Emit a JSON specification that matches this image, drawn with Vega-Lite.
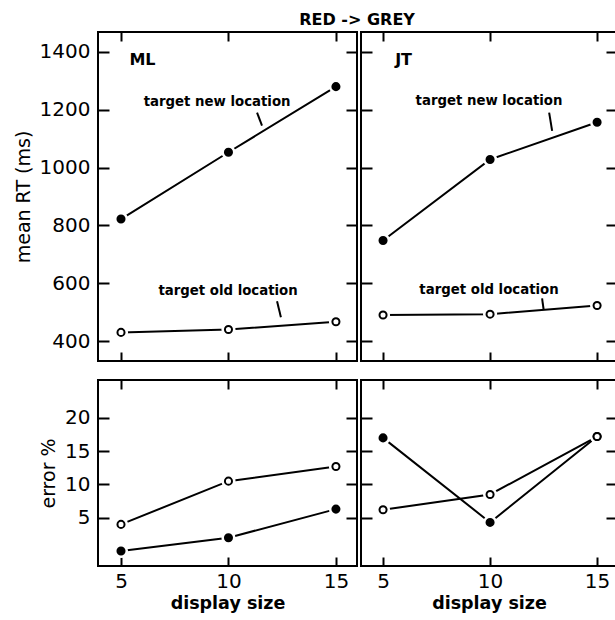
{
  "$schema": "https://vega.github.io/schema/vega-lite/v6.json",
  "padding": {"left": 13, "top": 12, "right": 0, "bottom": 0},
  "title": {"text": "RED -> GREY", "fontSize": 16, "fontWeight": "bold", "font": "DejaVu Sans", "anchor": "middle", "dx": 41, "offset": 2, "color": "black"},
  "datasets": {
    "pts": [
      {"subj": "ML", "m": "rt", "s": "new", "size": 5, "v": 822},
      {"subj": "ML", "m": "rt", "s": "new", "size": 10, "v": 1053},
      {"subj": "ML", "m": "rt", "s": "new", "size": 15, "v": 1280},
      {"subj": "ML", "m": "rt", "s": "old", "size": 5, "v": 430},
      {"subj": "ML", "m": "rt", "s": "old", "size": 10, "v": 440},
      {"subj": "ML", "m": "rt", "s": "old", "size": 15, "v": 467},
      {"subj": "JT", "m": "rt", "s": "new", "size": 5, "v": 748},
      {"subj": "JT", "m": "rt", "s": "new", "size": 10, "v": 1028},
      {"subj": "JT", "m": "rt", "s": "new", "size": 15, "v": 1157},
      {"subj": "JT", "m": "rt", "s": "old", "size": 5, "v": 490},
      {"subj": "JT", "m": "rt", "s": "old", "size": 10, "v": 493},
      {"subj": "JT", "m": "rt", "s": "old", "size": 15, "v": 523},
      {"subj": "ML", "m": "err", "s": "new", "size": 5, "v": 0},
      {"subj": "ML", "m": "err", "s": "new", "size": 10, "v": 2.0},
      {"subj": "ML", "m": "err", "s": "new", "size": 15, "v": 6.3},
      {"subj": "ML", "m": "err", "s": "old", "size": 5, "v": 4.0},
      {"subj": "ML", "m": "err", "s": "old", "size": 10, "v": 10.5},
      {"subj": "ML", "m": "err", "s": "old", "size": 15, "v": 12.7},
      {"subj": "JT", "m": "err", "s": "new", "size": 5, "v": 17.0},
      {"subj": "JT", "m": "err", "s": "new", "size": 10, "v": 4.3},
      {"subj": "JT", "m": "err", "s": "new", "size": 15, "v": 17.2},
      {"subj": "JT", "m": "err", "s": "old", "size": 5, "v": 6.2},
      {"subj": "JT", "m": "err", "s": "old", "size": 10, "v": 8.5},
      {"subj": "JT", "m": "err", "s": "old", "size": 15, "v": 17.2}
    ],
    "labels": [
      {"subj": "ML", "t": "ML", "x": 6.0, "y": 1372, "big": 1},
      {"subj": "ML", "t": "target new location", "x": 9.47, "y": 1228, "big": 0},
      {"subj": "ML", "t": "target old location", "x": 9.98, "y": 572, "big": 0},
      {"subj": "JT", "t": "JT", "x": 5.96, "y": 1372, "big": 1},
      {"subj": "JT", "t": "target new location", "x": 9.95, "y": 1231, "big": 0},
      {"subj": "JT", "t": "target old location", "x": 9.95, "y": 576, "big": 0}
    ],
    "leaders": [
      {"subj": "ML", "x": 11.33, "y": 1190, "x2": 11.56, "y2": 1145},
      {"subj": "ML", "x": 12.26, "y": 538, "x2": 12.44, "y2": 482},
      {"subj": "JT", "x": 12.76, "y": 1190, "x2": 12.9, "y2": 1127},
      {"subj": "JT", "x": 12.43, "y": 548, "x2": 12.5, "y2": 510}
    ]
  },
  "config": {
    "view": {"stroke": "black", "strokeWidth": 2},
    "axis": {"domain": false, "grid": false, "tickColor": "black", "tickWidth": 2, "labelColor": "black", "titleColor": "black", "labelFont": "DejaVu Sans", "titleFont": "DejaVu Sans", "format": "d"}
  },
  "columns": 2,
  "spacing": {"row": 15, "column": 0},
  "concat": [
    {
      "width": 259, "height": 329,
      "layer": [
        {"data": {"name": "pts"}, "transform": [{"filter": "datum.subj=='ML' && datum.m=='rt'"}],
         "mark": {"type": "line", "color": "black", "strokeWidth": 2},
         "encoding": {
           "x": {"field": "size", "type": "quantitative", "scale": {"domain": [3.93, 15.98], "nice": false, "zero": false},
                 "axis": {"orient": "bottom", "values": [5, 10, 15], "labels": false, "tickSize": -9, "title": null}},
           "y": {"field": "v", "type": "quantitative", "scale": {"domain": [331, 1469], "nice": false, "zero": false},
                 "axis": {"orient": "left", "values": [400, 600, 800, 1000, 1200, 1400], "format": "d", "tickSize": -11, "labelPadding": 19, "labelFontSize": 20, "title": "mean RT (ms)", "titleFontSize": 19, "titleFontWeight": "normal", "titlePadding": 6}},
           "detail": {"field": "s"}}},
        {"data": {"name": "pts"}, "transform": [{"filter": "datum.subj=='ML' && datum.m=='rt'"}],
         "mark": {"type": "circle", "color": "white", "size": 200, "opacity": 1},
         "encoding": {
           "x": {"field": "size", "type": "quantitative", "scale": {"domain": [3.93, 15.98], "nice": false, "zero": false},
                 "axis": {"orient": "top", "values": [5, 10, 15], "labels": false, "tickSize": -9, "title": null}},
           "y": {"field": "v", "type": "quantitative", "scale": {"domain": [331, 1469], "nice": false, "zero": false},
                 "axis": {"orient": "right", "values": [400, 600, 800, 1000, 1200, 1400], "labels": false, "tickSize": -11, "title": null}}}},
        {"data": {"name": "pts"}, "transform": [{"filter": "datum.subj=='ML' && datum.m=='rt'"}],
         "mark": {"type": "point", "shape": "circle", "stroke": "black", "strokeWidth": 2, "size": 50, "opacity": 1},
         "encoding": {
           "x": {"field": "size", "type": "quantitative", "scale": {"domain": [3.93, 15.98], "nice": false, "zero": false}, "axis": null},
           "y": {"field": "v", "type": "quantitative", "scale": {"domain": [331, 1469], "nice": false, "zero": false}, "axis": null},
           "fill": {"field": "s", "type": "nominal", "scale": {"domain": ["new", "old"], "range": ["black", "white"]}, "legend": null}}},
        {"data": {"name": "labels"}, "transform": [{"filter": "datum.subj=='ML'"}],
         "mark": {"type": "text", "font": "DejaVu Sans", "fontWeight": "bold", "color": "black", "align": "center", "baseline": "middle"},
         "encoding": {
           "x": {"field": "x", "type": "quantitative", "scale": {"domain": [3.93, 15.98], "nice": false, "zero": false}, "axis": null},
           "y": {"field": "y", "type": "quantitative", "scale": {"domain": [331, 1469], "nice": false, "zero": false}, "axis": null},
           "text": {"field": "t"},
           "size": {"field": "big", "type": "nominal", "scale": {"domain": [0, 1], "range": [13.3, 16]}, "legend": null}}},
        {"data": {"name": "leaders"}, "transform": [{"filter": "datum.subj=='ML'"}],
         "mark": {"type": "rule", "color": "black", "strokeWidth": 2},
         "encoding": {
           "x": {"field": "x", "type": "quantitative", "scale": {"domain": [3.93, 15.98], "nice": false, "zero": false}, "axis": null},
           "y": {"field": "y", "type": "quantitative", "scale": {"domain": [331, 1469], "nice": false, "zero": false}, "axis": null},
           "x2": {"field": "x2"}, "y2": {"field": "y2"}}}
      ],
      "resolve": {"axis": {"x": "independent", "y": "independent"}}
    },
    {
      "width": 256, "height": 329,
      "layer": [
        {"data": {"name": "pts"}, "transform": [{"filter": "datum.subj=='JT' && datum.m=='rt'"}],
         "mark": {"type": "line", "color": "black", "strokeWidth": 2},
         "encoding": {
           "x": {"field": "size", "type": "quantitative", "scale": {"domain": [3.97, 15.93], "nice": false, "zero": false},
                 "axis": {"orient": "bottom", "values": [5, 10, 15], "labels": false, "tickSize": -9, "title": null}},
           "y": {"field": "v", "type": "quantitative", "scale": {"domain": [331, 1469], "nice": false, "zero": false},
                 "axis": {"orient": "left", "values": [400, 600, 800, 1000, 1200, 1400], "labels": false, "tickSize": -11, "title": null}},
           "detail": {"field": "s"}}},
        {"data": {"name": "pts"}, "transform": [{"filter": "datum.subj=='JT' && datum.m=='rt'"}],
         "mark": {"type": "circle", "color": "white", "size": 200, "opacity": 1},
         "encoding": {
           "x": {"field": "size", "type": "quantitative", "scale": {"domain": [3.97, 15.93], "nice": false, "zero": false},
                 "axis": {"orient": "top", "values": [5, 10, 15], "labels": false, "tickSize": -9, "title": null}},
           "y": {"field": "v", "type": "quantitative", "scale": {"domain": [331, 1469], "nice": false, "zero": false},
                 "axis": {"orient": "right", "values": [400, 600, 800, 1000, 1200, 1400], "labels": false, "tickSize": -11, "title": null}}}},
        {"data": {"name": "pts"}, "transform": [{"filter": "datum.subj=='JT' && datum.m=='rt'"}],
         "mark": {"type": "point", "shape": "circle", "stroke": "black", "strokeWidth": 2, "size": 50, "opacity": 1},
         "encoding": {
           "x": {"field": "size", "type": "quantitative", "scale": {"domain": [3.97, 15.93], "nice": false, "zero": false}, "axis": null},
           "y": {"field": "v", "type": "quantitative", "scale": {"domain": [331, 1469], "nice": false, "zero": false}, "axis": null},
           "fill": {"field": "s", "type": "nominal", "scale": {"domain": ["new", "old"], "range": ["black", "white"]}, "legend": null}}},
        {"data": {"name": "labels"}, "transform": [{"filter": "datum.subj=='JT'"}],
         "mark": {"type": "text", "font": "DejaVu Sans", "fontWeight": "bold", "color": "black", "align": "center", "baseline": "middle"},
         "encoding": {
           "x": {"field": "x", "type": "quantitative", "scale": {"domain": [3.97, 15.93], "nice": false, "zero": false}, "axis": null},
           "y": {"field": "y", "type": "quantitative", "scale": {"domain": [331, 1469], "nice": false, "zero": false}, "axis": null},
           "text": {"field": "t"},
           "size": {"field": "big", "type": "nominal", "scale": {"domain": [0, 1], "range": [13.3, 16]}, "legend": null}}},
        {"data": {"name": "leaders"}, "transform": [{"filter": "datum.subj=='JT'"}],
         "mark": {"type": "rule", "color": "black", "strokeWidth": 2},
         "encoding": {
           "x": {"field": "x", "type": "quantitative", "scale": {"domain": [3.97, 15.93], "nice": false, "zero": false}, "axis": null},
           "y": {"field": "y", "type": "quantitative", "scale": {"domain": [331, 1469], "nice": false, "zero": false}, "axis": null},
           "x2": {"field": "x2"}, "y2": {"field": "y2"}}}
      ],
      "resolve": {"axis": {"x": "independent", "y": "independent"}}
    },
    {
      "width": 259, "height": 186,
      "layer": [
        {"data": {"name": "pts"}, "transform": [{"filter": "datum.subj=='ML' && datum.m=='err'"}],
         "mark": {"type": "line", "color": "black", "strokeWidth": 2},
         "encoding": {
           "x": {"field": "size", "type": "quantitative", "scale": {"domain": [3.93, 15.98], "nice": false, "zero": false},
                 "axis": {"orient": "bottom", "values": [5, 10, 15], "tickSize": -9, "labelPadding": 14, "labelFontSize": 20, "title": "display size", "titleFontSize": 17.5, "titleFontWeight": "bold", "titlePadding": 3}},
           "y": {"field": "v", "type": "quantitative", "scale": {"domain": [-2.25, 25.7], "nice": false, "zero": false},
                 "axis": {"orient": "left", "values": [5, 10, 15, 20], "tickSize": -11, "labelPadding": 19, "labelFontSize": 20, "title": "error %", "titleFontSize": 19, "titleFontWeight": "normal", "titlePadding": 6}},
           "detail": {"field": "s"}}},
        {"data": {"name": "pts"}, "transform": [{"filter": "datum.subj=='ML' && datum.m=='err'"}],
         "mark": {"type": "circle", "color": "white", "size": 200, "opacity": 1},
         "encoding": {
           "x": {"field": "size", "type": "quantitative", "scale": {"domain": [3.93, 15.98], "nice": false, "zero": false},
                 "axis": {"orient": "top", "values": [5, 10, 15], "labels": false, "tickSize": -9, "title": null}},
           "y": {"field": "v", "type": "quantitative", "scale": {"domain": [-2.25, 25.7], "nice": false, "zero": false},
                 "axis": {"orient": "right", "values": [5, 10, 15, 20], "labels": false, "tickSize": -11, "title": null}}}},
        {"data": {"name": "pts"}, "transform": [{"filter": "datum.subj=='ML' && datum.m=='err'"}],
         "mark": {"type": "point", "shape": "circle", "stroke": "black", "strokeWidth": 2, "size": 50, "opacity": 1},
         "encoding": {
           "x": {"field": "size", "type": "quantitative", "scale": {"domain": [3.93, 15.98], "nice": false, "zero": false}, "axis": null},
           "y": {"field": "v", "type": "quantitative", "scale": {"domain": [-2.25, 25.7], "nice": false, "zero": false}, "axis": null},
           "fill": {"field": "s", "type": "nominal", "scale": {"domain": ["new", "old"], "range": ["black", "white"]}, "legend": null}}}
      ],
      "resolve": {"axis": {"x": "independent", "y": "independent"}}
    },
    {
      "width": 256, "height": 186,
      "layer": [
        {"data": {"name": "pts"}, "transform": [{"filter": "datum.subj=='JT' && datum.m=='err'"}],
         "mark": {"type": "line", "color": "black", "strokeWidth": 2},
         "encoding": {
           "x": {"field": "size", "type": "quantitative", "scale": {"domain": [3.97, 15.93], "nice": false, "zero": false},
                 "axis": {"orient": "bottom", "values": [5, 10, 15], "tickSize": -9, "labelPadding": 14, "labelFontSize": 20, "title": "display size", "titleFontSize": 17.5, "titleFontWeight": "bold", "titlePadding": 3}},
           "y": {"field": "v", "type": "quantitative", "scale": {"domain": [-2.25, 25.7], "nice": false, "zero": false},
                 "axis": {"orient": "left", "values": [5, 10, 15, 20], "labels": false, "tickSize": -11, "title": null}},
           "detail": {"field": "s"}}},
        {"data": {"name": "pts"}, "transform": [{"filter": "datum.subj=='JT' && datum.m=='err'"}],
         "mark": {"type": "circle", "color": "white", "size": 200, "opacity": 1},
         "encoding": {
           "x": {"field": "size", "type": "quantitative", "scale": {"domain": [3.97, 15.93], "nice": false, "zero": false},
                 "axis": {"orient": "top", "values": [5, 10, 15], "labels": false, "tickSize": -9, "title": null}},
           "y": {"field": "v", "type": "quantitative", "scale": {"domain": [-2.25, 25.7], "nice": false, "zero": false},
                 "axis": {"orient": "right", "values": [5, 10, 15, 20], "labels": false, "tickSize": -11, "title": null}}}},
        {"data": {"name": "pts"}, "transform": [{"filter": "datum.subj=='JT' && datum.m=='err'"}],
         "mark": {"type": "point", "shape": "circle", "stroke": "black", "strokeWidth": 2, "size": 50, "opacity": 1},
         "encoding": {
           "x": {"field": "size", "type": "quantitative", "scale": {"domain": [3.97, 15.93], "nice": false, "zero": false}, "axis": null},
           "y": {"field": "v", "type": "quantitative", "scale": {"domain": [-2.25, 25.7], "nice": false, "zero": false}, "axis": null},
           "fill": {"field": "s", "type": "nominal", "scale": {"domain": ["new", "old"], "range": ["black", "white"]}, "legend": null}}}
      ],
      "resolve": {"axis": {"x": "independent", "y": "independent"}}
    }
  ]
}
